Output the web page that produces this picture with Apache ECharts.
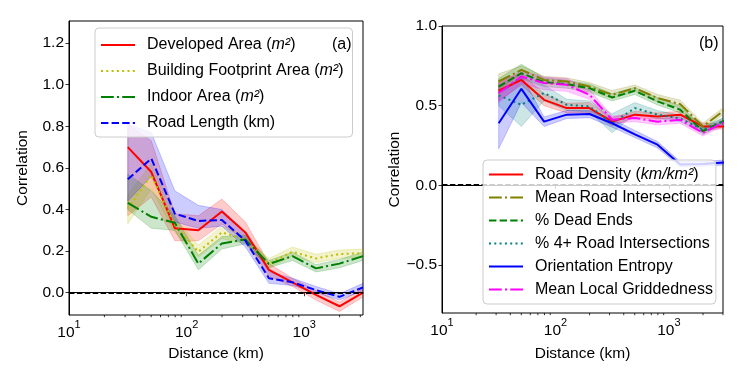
<!DOCTYPE html>
<html>
<head>
<meta charset="utf-8">
<script src="https://cdn.jsdelivr.net/npm/echarts@6/dist/echarts.min.js"></script>
<style>
  html, body { margin: 0; padding: 0; background: #fff; }
  #chart { width: 747px; height: 384px; }
</style>
</head>
<body>
<div id="chart"></div>
<script>
// distances (km), shared by both panels
const distances = [31.6, 50.1, 79.4, 125.9, 199.5, 316.2, 501.2, 794.3, 1258.9, 1995.3, 3162.3];
const minorTicks = [20, 30, 40, 50, 60, 70, 80, 90, 200, 300, 400, 500, 600, 700, 800, 900, 2000, 3000];
const zeroLevel = 0;

// panel (a)
const developed   = [0.70, 0.58, 0.31, 0.30, 0.39, 0.29, 0.11, 0.05, -0.01, -0.065, 0.0];
const developedLo = [0.37, 0.46, 0.25, 0.25, 0.33, 0.25, 0.08, 0.03, -0.035, -0.09, -0.02];
const developedHi = [0.81, 0.73, 0.38, 0.37, 0.45, 0.34, 0.14, 0.07, 0.01, -0.045, 0.02];
const footprint   = [0.405, 0.565, 0.325, 0.197, 0.29, 0.256, 0.14, 0.197, 0.165, 0.186, 0.19];
const footprintLo = [0.33, 0.50, 0.29, 0.17, 0.26, 0.235, 0.12, 0.175, 0.145, 0.165, 0.17];
const footprintHi = [0.47, 0.62, 0.36, 0.23, 0.32, 0.275, 0.165, 0.22, 0.185, 0.205, 0.21];
const indoor      = [0.432, 0.365, 0.336, 0.14, 0.237, 0.256, 0.138, 0.176, 0.117, 0.14, 0.176];
const indoorLo    = [0.40, 0.31, 0.30, 0.11, 0.21, 0.235, 0.12, 0.155, 0.10, 0.12, 0.155];
const indoorHi    = [0.57, 0.49, 0.37, 0.18, 0.27, 0.275, 0.155, 0.195, 0.135, 0.16, 0.195];
const roadLength   = [0.545, 0.645, 0.38, 0.345, 0.35, 0.25, 0.07, 0.05, 0.013, -0.02, 0.026];
const roadLengthLo = [0.44, 0.56, 0.34, 0.31, 0.32, 0.22, 0.045, 0.035, 0.0, -0.035, 0.01];
const roadLengthHi = [0.81, 0.77, 0.49, 0.42, 0.40, 0.29, 0.10, 0.07, 0.03, -0.005, 0.045];

// panel (b)
const roadDensity   = [0.594, 0.662, 0.537, 0.485, 0.485, 0.40, 0.444, 0.433, 0.444, 0.37, 0.37];
const roadDensityLo = [0.53, 0.63, 0.50, 0.455, 0.455, 0.375, 0.425, 0.415, 0.425, 0.35, 0.355];
const roadDensityHi = [0.66, 0.70, 0.575, 0.515, 0.52, 0.425, 0.465, 0.455, 0.465, 0.39, 0.39];
const meanInter   = [0.652, 0.725, 0.662, 0.652, 0.62, 0.569, 0.61, 0.548, 0.51, 0.37, 0.478];
const meanInterLo = [0.60, 0.70, 0.64, 0.63, 0.595, 0.545, 0.59, 0.525, 0.485, 0.35, 0.455];
const meanInterHi = [0.70, 0.75, 0.685, 0.675, 0.645, 0.595, 0.63, 0.57, 0.535, 0.39, 0.50];
const deadEnds   = [0.62, 0.704, 0.648, 0.635, 0.61, 0.552, 0.594, 0.527, 0.475, 0.34, 0.41];
const deadEndsLo = [0.57, 0.67, 0.62, 0.61, 0.585, 0.53, 0.57, 0.505, 0.455, 0.32, 0.39];
const deadEndsHi = [0.67, 0.76, 0.675, 0.66, 0.635, 0.575, 0.615, 0.55, 0.50, 0.36, 0.43];
const fourWay   = [0.565, 0.506, 0.58, 0.506, 0.496, 0.39, 0.485, 0.444, 0.42, 0.35, 0.41];
const fourWayLo = [0.50, 0.37, 0.53, 0.47, 0.46, 0.33, 0.45, 0.42, 0.40, 0.33, 0.39];
const fourWayHi = [0.63, 0.70, 0.63, 0.54, 0.53, 0.45, 0.52, 0.47, 0.44, 0.37, 0.43];
const orientation   = [0.39, 0.606, 0.40, 0.444, 0.448, 0.39, 0.32, 0.256, 0.131, 0.135, 0.145];
const orientationLo = [0.23, 0.52, 0.37, 0.42, 0.425, 0.365, 0.30, 0.235, 0.115, 0.12, 0.13];
const orientationHi = [0.56, 0.69, 0.43, 0.47, 0.47, 0.415, 0.345, 0.275, 0.15, 0.15, 0.16];
const griddedness   = [0.58, 0.683, 0.642, 0.631, 0.569, 0.412, 0.423, 0.40, 0.412, 0.33, 0.40];
const griddednessLo = [0.52, 0.64, 0.60, 0.59, 0.54, 0.39, 0.40, 0.38, 0.39, 0.31, 0.38];
const griddednessHi = [0.64, 0.72, 0.68, 0.67, 0.60, 0.435, 0.445, 0.42, 0.43, 0.35, 0.42];

const FONT = "Liberation Sans";
const SOLID = "solid";
const DOTTED = [2, 3.3];
const DASHED = [7.4, 3.2];
const DASHDOT = [12.8, 3.2, 2, 3.2];

const panelA = [
  { name: "Developed Area (m²)", color: "#ff0000", dash: SOLID, y: developed, lo: developedLo, hi: developedHi, band: "rgba(255,0,0,0.2)" },
  { name: "Building Footprint Area (m²)", color: "#bfbf00", dash: DOTTED, y: footprint, lo: footprintLo, hi: footprintHi, band: "rgba(191,191,0,0.2)" },
  { name: "Indoor Area (m²)", color: "#008000", dash: DASHDOT, y: indoor, lo: indoorLo, hi: indoorHi, band: "rgba(0,128,0,0.2)" },
  { name: "Road Length (km)", color: "#0000ff", dash: DASHED, y: roadLength, lo: roadLengthLo, hi: roadLengthHi, band: "rgba(0,0,255,0.2)" },
];
const panelB = [
  { name: "Road Density (km/km²)", color: "#ff0000", dash: SOLID, y: roadDensity, lo: roadDensityLo, hi: roadDensityHi, band: "rgba(255,0,0,0.2)" },
  { name: "Mean Road Intersections", color: "#808000", dash: DASHDOT, y: meanInter, lo: meanInterLo, hi: meanInterHi, band: "rgba(128,128,0,0.2)" },
  { name: "% Dead Ends", color: "#008000", dash: DASHED, y: deadEnds, lo: deadEndsLo, hi: deadEndsHi, band: "rgba(0,128,0,0.2)" },
  { name: "% 4+ Road Intersections", color: "#008080", dash: DOTTED, y: fourWay, lo: fourWayLo, hi: fourWayHi, band: "rgba(0,128,128,0.2)" },
  { name: "Orientation Entropy", color: "#0000ff", dash: SOLID, y: orientation, lo: orientationLo, hi: orientationHi, band: "rgba(0,0,255,0.2)" },
  { name: "Mean Local Griddedness", color: "#ff00ff", dash: DASHDOT, y: griddedness, lo: griddednessLo, hi: griddednessHi, band: "rgba(255,0,255,0.2)" },
];

const yMinA = -0.107, yMaxA = 1.306;
const yMinB = -0.8, yMaxB = 1.0;

function pairs(ys) {
  return distances.map((d, i) => [d, ys[i]]);
}

function buildSeries(panel, idx, yMin) {
  const out = [];
  // confidence bands as one polygon each
  panel.forEach((s) => {
    out.push({
      type: "custom", name: "_band", xAxisIndex: idx, yAxisIndex: idx, silent: true, z: 2,
      data: pairs(s.y),
      renderItem: (params, api) => {
        if (params.dataIndex !== 0) return null;
        const upper = distances.map((d, i) => api.coord([d, s.hi[i]]));
        const lower = distances.map((d, i) => api.coord([d, s.lo[i]])).reverse();
        const cs = params.coordSys;
        return {
          type: "polygon",
          shape: { points: upper.concat(lower) },
          style: { fill: s.band, stroke: s.band, lineWidth: 1 },
          clipPath: { type: "rect", shape: { x: cs.x, y: cs.y, width: cs.width, height: cs.height } },
        };
      },
    });
  });
  // dashed zero line across the axes
  out.push({
    type: "custom", name: "_zero", xAxisIndex: idx, yAxisIndex: idx, silent: true, z: 4,
    data: [[distances[0], zeroLevel]],
    renderItem: (params, api) => {
      const cs = params.coordSys;
      const y = Math.round(api.coord([api.value(0), api.value(1)])[1]);
      return {
        type: "line",
        shape: { x1: cs.x, y1: y, x2: cs.x + cs.width, y2: y },
        style: { stroke: "#000", lineWidth: 2, lineDash: [5.5, 2.4], opacity: 1 },
      };
    },
  });
  // main lines
  panel.forEach((s) => {
    out.push({
      type: "line", name: s.name, xAxisIndex: idx, yAxisIndex: idx,
      symbol: "none", showSymbol: false, color: s.color,
      lineStyle: { color: s.color, width: 2, type: s.dash, cap: "butt" },
      data: pairs(s.y), z: 3,
    });
  });
  // x minor ticks (matplotlib style log minors)
  out.push({
    type: "custom", xAxisIndex: idx, yAxisIndex: idx, silent: true, clip: false, z: 10,
    data: minorTicks.map((t) => [t, yMin]),
    renderItem: (params, api) => {
      const p = api.coord([api.value(0), api.value(1)]);
      return { type: "line", shape: { x1: p[0], y1: p[1], x2: p[0], y2: p[1] + 2.2 }, style: { stroke: "#000", lineWidth: 0.8 } };
    },
  });
  return out;
}

function xAxis(idx, max, nameGap) {
  return {
    type: "log", logBase: 10, gridIndex: idx, min: 10, max: max,
    name: "Distance (km)", nameLocation: "middle", nameGap: nameGap,
    nameTextStyle: { fontFamily: FONT, fontSize: 15.5, color: "#000" },
    axisLine: { lineStyle: { color: "#000", width: 1 } },
    axisTick: { length: 3.5, lineStyle: { color: "#000", width: 0.8 } },
    splitLine: { show: false },
    axisLabel: {
      margin: 4, color: "#000", showMaxLabel: false,
      formatter: (v) => {
        const e = Math.log10(v);
        if (Math.abs(e - Math.round(e)) > 1e-6) return "";
        return "{b|10}{s|" + Math.round(e) + "}";
      },
      rich: {
        b: { fontFamily: FONT, fontSize: 15.5, color: "#000", lineHeight: 22, verticalAlign: "bottom" },
        s: { fontFamily: FONT, fontSize: 11, color: "#000", lineHeight: 10, verticalAlign: "top" },
      },
    },
  };
}

function yAxis(idx, min, max, splitNumber, nameGap) {
  return {
    type: "value", gridIndex: idx, min: min, max: max, splitNumber: splitNumber,
    name: "Correlation", nameLocation: "middle", nameGap: nameGap,
    nameTextStyle: { fontFamily: FONT, fontSize: 15.5, color: "#000" },
    axisLine: { show: true, lineStyle: { color: "#000", width: 1 } },
    axisTick: { show: true, length: 3.5, lineStyle: { color: "#000", width: 0.8 } },
    splitLine: { show: false },
    axisLabel: {
      margin: 5, color: "#000", fontFamily: FONT, fontSize: 15.5,
      showMinLabel: false, showMaxLabel: idx === 1,
      formatter: (v) => v.toFixed(1).replace("-", "\u2212"),
    },
  };
}

function legend(panel, left, top, padding, lineHeight, gap) {
  return {
    data: panel.map((s) => s.name),
    orient: "vertical", align: "left", left: left, top: top,
    padding: padding, itemGap: gap, itemWidth: 34, itemHeight: 12,
    backgroundColor: "rgba(255,255,255,0.8)", borderColor: "#cccccc", borderWidth: 1, borderRadius: 4,
    itemStyle: { opacity: 0 },
    formatter: (name) => name.replace(/\((m²|km\/km²)\)/, "({i|$1})"),
    textStyle: {
      fontFamily: FONT, fontSize: 16, color: "#000", lineHeight: lineHeight, padding: [0, 0, 0, 7],
      rich: { i: { fontFamily: FONT, fontSize: 16, fontStyle: "italic", color: "#000", lineHeight: lineHeight } },
    },
    selectedMode: false,
    z: 20,
  };
}

const chart = echarts.init(document.getElementById("chart"), null, { renderer: "canvas" });
chart.setOption({
  animation: false,
  backgroundColor: "#fff",
  grid: [
    { left: 69, right: 384, top: 21, bottom: 69, show: true, borderColor: "#000", borderWidth: 1, backgroundColor: "transparent" },
    { left: 442, right: 24, top: 26, bottom: 71, show: true, borderColor: "#000", borderWidth: 1, backgroundColor: "transparent" },
  ],
  xAxis: [xAxis(0, 3162.3, 31), xAxis(1, 3000, 33)],
  yAxis: [yAxis(0, yMinA, yMaxA, 7, 38), yAxis(1, yMinB, yMaxB, 4, 39)],
  legend: [
    legend(panelA, 95, 28, [8, 9, 5, 5], 18, 8),
    legend(panelB, 483, 160, [6, 3, 6, 5], 17, 6),
  ],
  graphic: [
    { type: "text", left: 332, top: 37, z: 100, style: { text: "(a)", fontFamily: FONT, fontSize: 16, fill: "#000" } },
    { type: "text", left: 699, top: 36, z: 100, style: { text: "(b)", fontFamily: FONT, fontSize: 16, fill: "#000" } },
  ],
  series: [].concat(buildSeries(panelA, 0, yMinA), buildSeries(panelB, 1, yMinB)),
});
</script>
</body>
</html>
